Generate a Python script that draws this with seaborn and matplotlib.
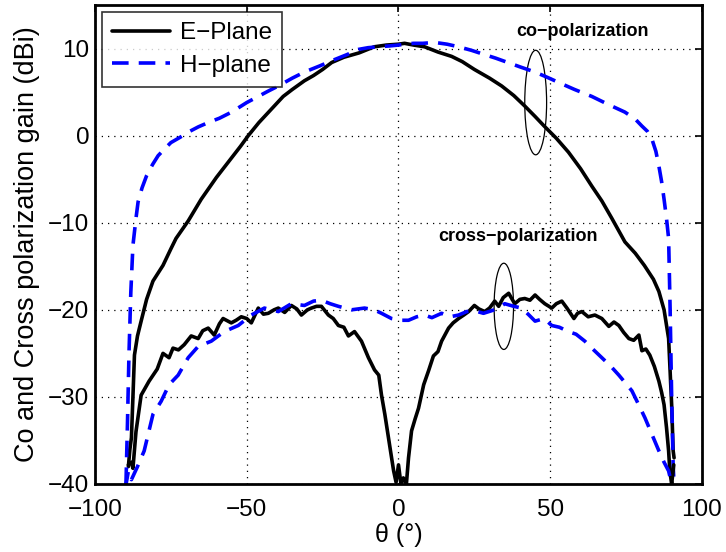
import numpy as np
import pandas as pd
import matplotlib
matplotlib.use("Agg")
import matplotlib.pyplot as plt
from matplotlib.patches import Ellipse
import seaborn as sns

# ---------------- data (theta in degrees, gain in dBi) ----------------
e_co = [(-89, -38), (-88.5, -36), (-88, -34.7), (-87.5, -30), (-87, -25.2), (-86, -23),
        (-84.8, -21.3), (-83, -18.8), (-80.9, -16.7), (-77.6, -14.9), (-75, -13),
        (-73.3, -11.8), (-69.3, -9.8), (-65, -7.3), (-60, -4.8), (-56, -3.0), (-52, -1.2),
        (-49.5, 0), (-46, 1.5), (-42, 3.0), (-38, 4.5), (-35, 5.3), (-31, 6.3), (-28, 6.9),
        (-25, 7.6), (-22, 8.4), (-18, 9.0), (-13, 9.5), (-8, 10.2), (-4, 10.4), (0, 10.5),
        (2, 10.6), (5, 10.4), (8.6, 10.2), (13, 9.6), (17.5, 9.1), (21, 8.5), (25, 7.6),
        (30, 6.6), (34, 5.7), (38, 4.6), (41.6, 3.4), (45, 2.2), (48, 1.1), (52, -0.3),
        (56, -1.9), (60, -3.8), (63.7, -5.8), (67, -7.5), (70.3, -9.5), (74.6, -12.2),
        (78, -13.5), (81, -14.9), (84, -16.5), (85.8, -17.9), (87.5, -20), (89, -23.3),
        (90, -30.9), (90.5, -36.2), (90.8, -37)]

h_co = [(-89.8, -40), (-89.3, -33), (-88.8, -25), (-88.2, -18), (-87.5, -12.6),
        (-86.5, -9.5), (-85.8, -7.6), (-84.5, -6), (-83, -4.6), (-81, -3.3), (-79.2, -2.3),
        (-77, -1.5), (-75, -0.8), (-72, -0.2), (-69.3, 0.4), (-66, 1.0), (-62.7, 1.5),
        (-59, 2.0), (-55, 2.7), (-50, 3.8), (-46.2, 4.5), (-43, 5.1), (-39.6, 5.7),
        (-35, 6.6), (-31, 7.3), (-26, 8.0), (-22, 8.6), (-17, 9.3), (-13.2, 9.9),
        (-10, 10.1), (-6.6, 10.2), (-3, 10.3), (0, 10.4), (2, 10.5), (5, 10.6), (8, 10.6),
        (12, 10.7), (16, 10.5), (19.8, 10.2), (24, 9.8), (28.4, 9.3), (32, 8.9), (36, 8.4),
        (40, 7.9), (45, 7.3), (49, 6.7), (52.8, 6.1), (58, 5.3), (63.7, 4.5), (69, 3.6),
        (74.6, 2.7), (78, 1.9), (80.2, 1.1), (82, 0.5), (83.5, -0.4), (84.8, -1.8),
        (85.8, -3.5), (86.7, -5.3), (87.5, -7.3), (88.3, -9.5), (89, -11.8), (89.5, -20),
        (90, -30), (90.5, -38), (90.8, -40)]

e_cross = [(-89, -37.8), (-88, -37.5), (-87.5, -38.2), (-86.5, -34), (-84.8, -29.8),
           (-82.2, -28.2), (-79.5, -26.8), (-77.6, -25), (-75.6, -25.5), (-74.3, -24.4),
           (-72.5, -24.6), (-70.6, -24), (-68.3, -23), (-66, -23.3), (-64.5, -22.4),
           (-62.7, -22.1), (-60.7, -22.9), (-59, -21.6), (-57.8, -21), (-55.1, -21.5),
           (-53.5, -21.2), (-51.8, -20.8), (-50, -21.0), (-48.5, -21.5), (-46.2, -19.8),
           (-44.5, -20.5), (-42.9, -20.4), (-41, -20.0), (-39.6, -19.8), (-37.5, -20.3),
           (-35.3, -19.5), (-33.5, -19.9), (-32, -20.6), (-30, -20.0), (-28.7, -19.8),
           (-27, -19.6), (-25.4, -19.6), (-23.1, -20.6), (-21.5, -21.0), (-19.8, -21.8),
           (-18, -22.0), (-16.5, -23.0), (-14.5, -22.5), (-12.2, -23.6), (-9.9, -25.5),
           (-7.9, -26.9), (-6.5, -27.5), (-5.6, -29.8), (-4.5, -32), (-3.3, -34.7),
           (-2.5, -36.5), (-1.6, -38.5), (-0.8, -39.8), (0, -37.8), (0.8, -40),
           (1.6, -39.3), (2.6, -40), (3.3, -37), (4.3, -33.9), (5.5, -32.5), (6.6, -31.3),
           (8.3, -28.6), (9.9, -27), (11.5, -25.3), (13, -24.8), (14.2, -23.6), (16.5, -22.1),
           (18, -21.5), (19.8, -21.0), (21.5, -20.6), (23.1, -20.2), (25, -19.5),
           (26.5, -19.9), (28.4, -20.2), (30, -19.8), (31.7, -19.0), (33, -19.6),
           (34.5, -18.6), (36.3, -18.1), (38.3, -19.3), (40, -18.8), (41.6, -18.7),
           (43.3, -18.9), (45, -18.3), (46.5, -18.8), (48.2, -19.3), (50.5, -19.8),
           (52, -19.3), (53.8, -19.0), (55.5, -19.8), (57.8, -21.0), (59, -20.4),
           (60.4, -20.2), (62.5, -20.8), (64.7, -20.6), (67, -21.0), (69.3, -21.9),
           (71, -21.4), (72.6, -21.8), (74.2, -22.6), (75.9, -23.3), (77.5, -23.5),
           (79.2, -22.9), (80.2, -24.7), (81.5, -24.5), (82.8, -25.2), (84.3, -26.5),
           (85.8, -28.2), (86.7, -29.5), (87.5, -30.9), (88.3, -33.5), (89, -36.2),
           (89.4, -38.5), (90, -40), (90.7, -37.8)]

h_cross = [(-90, -40.5), (-89, -38.5), (-88, -39.5), (-86, -38), (-83.8, -36.2),
           (-80.9, -32), (-78.2, -30.5), (-75.6, -28.6), (-72.6, -27.5), (-69.3, -25.5),
           (-66, -24.2), (-61.7, -23.6), (-57.4, -22.5), (-52.8, -21.8), (-48.5, -20.6),
           (-44.2, -19.8), (-39.6, -20.2), (-35.3, -19.3), (-31, -19.5), (-28, -19.0),
           (-25.4, -18.9), (-22.5, -19.3), (-19.8, -19.6), (-15.5, -20.0), (-11.2, -19.8),
           (-8, -20.0), (-5.6, -20.4), (-2.3, -21.0), (1, -21.2), (3.3, -21.2), (6, -20.8),
           (8.6, -20.6), (11, -20.9), (14.2, -20.4), (17, -20.8), (19.8, -20.6),
           (22.5, -20.2), (25, -20.1), (28, -20.4), (30.7, -20.1), (33, -19.8), (35, -19.3),
           (38, -19.6), (40.6, -19.8), (43, -20.6), (45, -21.3), (48, -21.0), (50.5, -21.8),
           (53, -22.0), (56, -22.5), (58.5, -22.8), (61.4, -23.6), (64, -24.5), (67, -25.5),
           (70, -26.5), (72.6, -27.5), (75, -28.5), (76.9, -29.3), (79, -30.8),
           (81.2, -32.4), (83.5, -34.3), (85.8, -36.2), (87.5, -37.5), (89, -38.5),
           (90, -40)]

legend_labels = ["E\u2212Plane", "H\u2212plane"]
x_ticks = [-100, -50, 0, 50, 100]
y_ticks = [-40, -30, -20, -10, 0, 10]

# ---------------- plotting ----------------
sns.set_theme(style="white")
plt.rcParams["font.family"] = ["Liberation Sans", "DejaVu Sans"]
plt.rcParams["axes.unicode_minus"] = True
plt.rcParams["text.color"] = "black"
plt.rcParams["axes.labelcolor"] = "black"

fig = plt.figure(figsize=(7.26, 5.52), dpi=100)
ax = fig.add_axes([95 / 726, 1 - 484 / 552, 607 / 726, 479 / 552])

def frame(pairs):
    return pd.DataFrame(pairs, columns=["theta", "gain"])

dash = (0, (4.6, 2.8))
common = dict(x="theta", y="gain", ax=ax, sort=False, estimator=None, linewidth=2.6)
sns.lineplot(data=frame(e_co), color="black", label=legend_labels[0], **common)
sns.lineplot(data=frame(h_co), color="#0000ff", label=legend_labels[1],
             linestyle=dash, **common)
sns.lineplot(data=frame(e_cross), color="black", **common)
sns.lineplot(data=frame(h_cross), color="#0000ff", linestyle=dash, **common)

ax.set_xlim(-100, 100)
ax.set_ylim(-40, 15)
ax.set_xticks(x_ticks)
ax.set_yticks(y_ticks)
ax.set_xticklabels([f"{t:d}".replace("-", "\u2212") for t in x_ticks], fontsize=17.5)
ax.set_yticklabels([f"{t:d}".replace("-", "\u2212") for t in y_ticks], fontsize=17.5)
ax.tick_params(direction="in", length=5, width=1.2, top=True, right=True,
               colors="black")
ax.tick_params(axis="x", pad=11)
ax.tick_params(axis="y", pad=4)
ax.grid(True, linestyle=(0, (1, 4)), color="black", linewidth=0.9)
for s in ax.spines.values():
    s.set_linewidth(2)
    s.set_color("black")

ax.set_xlabel("\u03b8 (\u00b0)", fontsize=18, labelpad=1, color="black")
ax.set_ylabel("Co and Cross polarization gain (dBi)", fontsize=19.5, labelpad=6,
              color="black")

leg = ax.legend(loc="upper left", fontsize=17.5, frameon=True, fancybox=False,
                borderpad=0.4, handlelength=2.4, handletextpad=0.4,
                labelspacing=0.45, borderaxespad=0.3)
leg.get_frame().set_edgecolor("black")
leg.get_frame().set_linewidth(1.2)
for t in leg.get_texts():
    t.set_color("black")

ax.add_patch(Ellipse((45.2, 3.8), 7.2, 12, fill=False, edgecolor="black", linewidth=0.9))
ax.add_patch(Ellipse((34.7, -19.6), 6.4, 9.9, fill=False, edgecolor="black", linewidth=0.9))
ax.text(60.7, 11.9, "co\u2212polarization", fontsize=13, fontweight="bold",
        ha="center", va="center", color="black")
ax.text(39.3, -11.6, "cross\u2212polarization", fontsize=13, fontweight="bold",
        ha="center", va="center", color="black")

fig.savefig("out.png", dpi=100)
